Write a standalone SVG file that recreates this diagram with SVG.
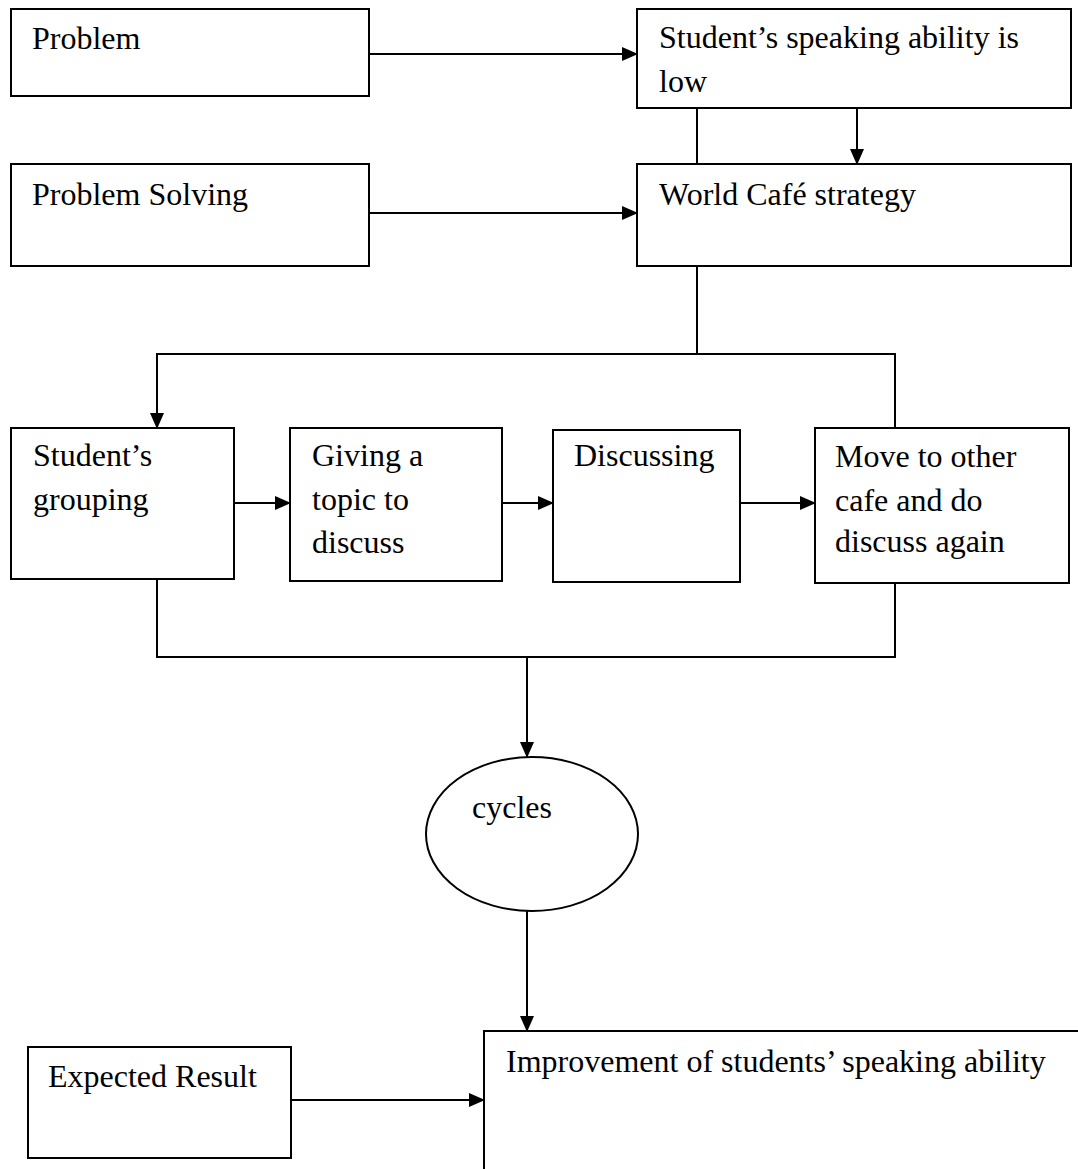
<svg xmlns="http://www.w3.org/2000/svg" width="1078" height="1169" viewBox="0 0 1078 1169">
<style>
.box{fill:#fff;stroke:#000;stroke-width:2}
.t{font-family:"Liberation Serif","Times New Roman",serif;font-size:32px;fill:#000}
.c{fill:none;stroke:#000;stroke-width:2}
</style>
<defs>
<marker id="ah" markerUnits="userSpaceOnUse" markerWidth="16" markerHeight="14" refX="15" refY="7" orient="auto">
<path d="M0,0 L16,7 L0,14 Z" fill="#000"/>
</marker>
</defs>
<rect width="1078" height="1169" fill="#fff"/>
<g id="n-problem"><rect class="box" x="11" y="9" width="358" height="87"/><text class="t" x="32" y="49">Problem</text></g>
<g id="n-low"><rect class="box" x="637" y="9" width="434" height="99"/><text class="t" x="659" y="48">Student’s speaking ability is</text><text class="t" x="659" y="92">low</text></g>
<g id="n-solving"><rect class="box" x="11" y="164" width="358" height="102"/><text class="t" x="32" y="205">Problem Solving</text></g>
<g id="n-cafe"><rect class="box" x="637" y="164" width="434" height="102"/><text class="t" x="659" y="205">World Café strategy</text></g>
<g id="n-grouping"><rect class="box" x="11" y="428" width="223" height="151"/><text class="t" x="33" y="466">Student’s</text><text class="t" x="33" y="510">grouping</text></g>
<g id="n-topic"><rect class="box" x="290" y="428" width="212" height="153"/><text class="t" x="312" y="466">Giving a</text><text class="t" x="312" y="510">topic to</text><text class="t" x="312" y="553">discuss</text></g>
<g id="n-discussing"><rect class="box" x="553" y="430" width="187" height="152"/><text class="t" x="574" y="466">Discussing</text></g>
<g id="n-move"><rect class="box" x="815" y="428" width="254" height="155"/><text class="t" x="835" y="467">Move to other</text><text class="t" x="835" y="511">cafe and do</text><text class="t" x="835" y="552">discuss again</text></g>
<g id="n-cycles"><ellipse class="box" cx="532" cy="834" rx="106" ry="77"/><text class="t" x="472" y="818">cycles</text></g>
<g id="n-expected"><rect class="box" x="28" y="1047" width="263" height="111"/><text class="t" x="48" y="1087">Expected Result</text></g>
<g id="n-improvement"><rect class="box" x="484" y="1031" width="700" height="300"/><text class="t" x="506" y="1072">Improvement of students’ speaking ability</text></g>
<g id="connectors">
<line class="c" x1="369" y1="54" x2="637" y2="54" marker-end="url(#ah)"/>
<line class="c" x1="369" y1="213" x2="637" y2="213" marker-end="url(#ah)"/>
<line class="c" x1="697" y1="108" x2="697" y2="164"/>
<line class="c" x1="857" y1="108" x2="857" y2="164" marker-end="url(#ah)"/>
<polyline class="c" points="697,266 697,354"/>
<polyline class="c" points="895,428 895,354 157,354 157,428" marker-end="url(#ah)"/>
<line class="c" x1="234" y1="503" x2="290" y2="503" marker-end="url(#ah)"/>
<line class="c" x1="502" y1="503" x2="553" y2="503" marker-end="url(#ah)"/>
<line class="c" x1="740" y1="503" x2="815" y2="503" marker-end="url(#ah)"/>
<polyline class="c" points="157,579 157,657 895,657 895,583"/>
<line class="c" x1="527" y1="657" x2="527" y2="757" marker-end="url(#ah)"/>
<line class="c" x1="527" y1="911" x2="527" y2="1031" marker-end="url(#ah)"/>
<line class="c" x1="291" y1="1100" x2="484" y2="1100" marker-end="url(#ah)"/>
</g>
</svg>
